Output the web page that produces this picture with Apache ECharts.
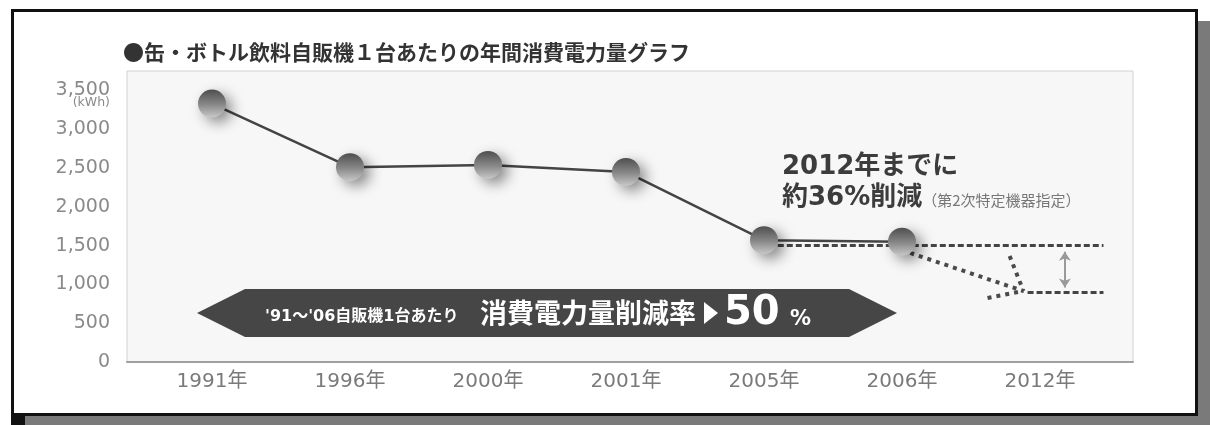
<!DOCTYPE html>
<html>
<head>
<meta charset="utf-8">
<script src="https://cdn.jsdelivr.net/npm/echarts@6/dist/echarts.min.js"></script>
<style>
  html, body { margin: 0; padding: 0; background: #fff; }
  #shadow { position: absolute; left: 25px; top: 21px; width: 1185px; height: 404px; background: #7a7a7a; }
  #corner { position: absolute; left: 11px; top: 413px; width: 14px; height: 12px; background: #111; }
  #frame { position: absolute; left: 11px; top: 9px; width: 1187px; height: 407px; box-sizing: border-box; border: 3px solid #111; background: #fff; }
  #chart { position: absolute; left: 0; top: 0; width: 1210px; height: 425px; }
</style>
</head>
<body>
<div id="shadow"></div>
<div id="corner"></div>
<div id="frame"></div>
<div id="chart"></div>
<script>
// ---- data ----
const titleText = '●缶・ボトル飲料自販機１台あたりの年間消費電力量グラフ';
const categories = ['1991年', '1996年', '2000年', '2001年', '2005年', '2006年', '2012年'];
const consumption = [3330, 2510, 2540, 2450, 1570, 1550]; // kWh per machine (no measured value for 2012)
const yTickLabels = ['0', '500', '1,000', '1,500', '2,000', '2,500', '3,000', '3,500'];
const yUnit = '(kWh)';
// projection annotation (x in category-index units, y in kWh)
const projectionNow = [[4.1, 1500], [6.46, 1500]];
const projectionTarget = [[5.91, 900], [6.46, 900]];
const dottedPaths = [
  [[5.06, 1405], [5.88, 915]],
  [[5.78, 1366], [5.88, 915]],
  [[5.62, 825], [5.88, 915]]
];
const reductionArrow = [[6.18, 1420], [6.18, 960]];
const noteLine1 = '2012年までに';
const noteLine2 = '約36%削減';
const noteSub = '（第2次特定機器指定）';
const bannerSmall = '\'91～\'06自販機1台あたり';
const bannerBig = '消費電力量削減率';
const bannerNum = '50';
const bannerPct = '%';

const numFont = "'DejaVu Sans', 'Noto Sans CJK JP', sans-serif";
const cjkFont = "'Noto Sans CJK JP', 'DejaVu Sans', sans-serif";

const chart = echarts.init(document.getElementById('chart'), null, { renderer: 'canvas' });

const option = {
  animation: false,
  title: {
    text: titleText,
    left: 118,
    top: 35,
    textStyle: { fontFamily: cjkFont, fontSize: 21, fontWeight: 'bold', color: '#333', lineHeight: 24 }
  },
  grid: [
    { left: 127, right: 77, top: 71, bottom: 63, show: true, backgroundColor: '#f7f7f7', borderColor: '#d2d2d2', borderWidth: 1 },
    { left: 212, right: 101, top: 71, bottom: 63 }
  ],
  xAxis: [
    {
      gridIndex: 0, type: 'value', position: 'top', min: 0, max: 1,
      axisLine: { show: true, lineStyle: { color: '#a0a0a0', width: 2 } },
      axisTick: { show: false }, axisLabel: { show: false }, splitLine: { show: false }
    },
    {
      gridIndex: 1, type: 'value', min: 0, max: 6.5, interval: 1,
      axisLine: { show: false }, axisTick: { show: false }, splitLine: { show: false },
      axisLabel: {
        showMaxLabel: false,
        margin: 10,
        fontFamily: numFont, fontSize: 20, color: '#7a7a7a',
        formatter: function (v) {
          return (Number.isInteger(v) && v < categories.length) ? categories[v] : '';
        }
      }
    }
  ],
  yAxis: [
    {
      gridIndex: 0, type: 'value', min: 0, max: 3750, interval: 500,
      axisLine: { show: false }, axisTick: { show: false }, splitLine: { show: false },
      axisLabel: {
        showMaxLabel: false,
        margin: 17,
        fontFamily: numFont, fontSize: 19, color: '#8a8a8a',
        formatter: function (v) {
          const i = Math.round(v / 500);
          return (i >= 0 && i < yTickLabels.length && v % 500 === 0) ? yTickLabels[i] : '';
        }
      }
    },
    {
      gridIndex: 1, type: 'value', min: 0, max: 3750, interval: 500, show: false
    }
  ],
  series: [
    {
      type: 'lines', coordinateSystem: 'cartesian2d', xAxisIndex: 1, yAxisIndex: 1,
      polyline: false, silent: true, z: 3,
      lineStyle: { color: '#444', width: 3, type: [6, 3], opacity: 1 },
      data: [{ coords: projectionNow }, { coords: projectionTarget }]
    },
    {
      type: 'lines', coordinateSystem: 'cartesian2d', xAxisIndex: 1, yAxisIndex: 1,
      polyline: false, silent: true, z: 3,
      lineStyle: { color: '#4a4a4a', width: 4, type: [4, 5], cap: 'butt', opacity: 1 },
      data: dottedPaths.map(function (p) { return { coords: p }; })
    },
    {
      type: 'lines', coordinateSystem: 'cartesian2d', xAxisIndex: 1, yAxisIndex: 1,
      polyline: false, silent: true, z: 3,
      symbol: ['arrow', 'arrow'], symbolSize: 9,
      lineStyle: { color: '#9a9a9a', width: 2, opacity: 1 },
      data: [{ coords: reductionArrow }]
    },
    {
      type: 'line', xAxisIndex: 1, yAxisIndex: 1, z: 5,
      data: consumption.map(function (v, i) { return [i, v]; }),
      symbol: 'circle', symbolSize: 28,
      lineStyle: { color: '#444', width: 2.5 },
      itemStyle: {
        color: new echarts.graphic.LinearGradient(0, 0, 0, 1, [
          { offset: 0, color: '#4e4e4e' },
          { offset: 0.55, color: '#8a8a8a' },
          { offset: 1, color: '#c8c8c8' }
        ]),
        shadowBlur: 14, shadowColor: 'rgba(0,0,0,0.45)', shadowOffsetX: 6, shadowOffsetY: 5
      }
    }
  ],
  graphic: [
    {
      type: 'text', z: 50,
      style: { text: yUnit, x: 110, y: 103, align: 'right', verticalAlign: 'middle', fontFamily: numFont, fontSize: 12.5, fill: '#8a8a8a' }
    },
    {
      type: 'polygon', z: 50,
      shape: { points: [[197, 313], [245, 289], [849, 289], [897, 313], [849, 337], [245, 337]] },
      style: { fill: '#464646' }
    },
    {
      type: 'text', z: 51,
      style: { text: bannerSmall, x: 265, y: 317, align: 'left', verticalAlign: 'middle', fontFamily: numFont, fontWeight: 'bold', fontSize: 16, fill: '#fff' }
    },
    {
      type: 'text', z: 51,
      style: { text: bannerBig, x: 480, y: 313, align: 'left', verticalAlign: 'middle', fontFamily: cjkFont, fontWeight: 'bold', fontSize: 27, fill: '#fff' }
    },
    {
      type: 'polygon', z: 51,
      shape: { points: [[704, 302], [718, 313], [704, 324]] },
      style: { fill: '#fff' }
    },
    {
      type: 'text', z: 51,
      style: { text: bannerNum, x: 724, y: 314, align: 'left', verticalAlign: 'middle', fontFamily: numFont, fontWeight: 'bold', fontSize: 40, fill: '#fff' }
    },
    {
      type: 'text', z: 51,
      style: { text: bannerPct, x: 790, y: 320, align: 'left', verticalAlign: 'middle', fontFamily: numFont, fontWeight: 'bold', fontSize: 21, fill: '#fff' }
    },
    {
      type: 'text', z: 51,
      style: { text: noteLine1, x: 782, y: 167, align: 'left', verticalAlign: 'middle', fontFamily: numFont, fontWeight: 'bold', fontSize: 26, fill: '#3c3c3c' }
    },
    {
      type: 'text', z: 51,
      style: {
        text: '{a|' + noteLine2 + '}{b|' + noteSub + '}',
        x: 782, y: 198, align: 'left', verticalAlign: 'middle',
        rich: {
          a: { fontFamily: numFont, fontWeight: 'bold', fontSize: 26, fill: '#3c3c3c', color: '#3c3c3c' },
          b: { fontFamily: cjkFont, fontSize: 15, fill: '#777', color: '#777', padding: [4, 0, 0, 0] }
        }
      }
    }
  ]
};

chart.setOption(option);
</script>
</body>
</html>
